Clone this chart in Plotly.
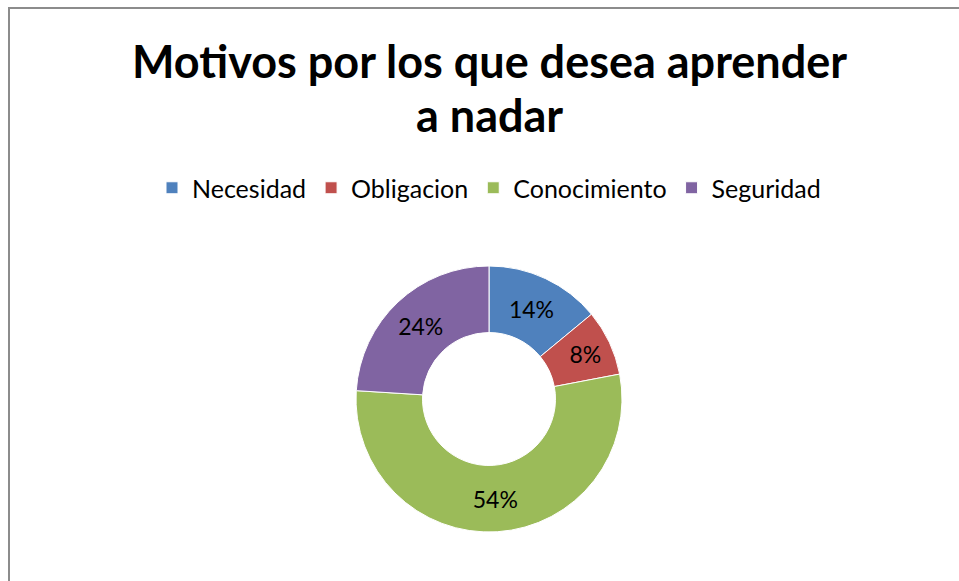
import plotly.graph_objects as go

categories = ["Necesidad", "Obligacion", "Conocimiento", "Seguridad"]
values = [14, 8, 54, 24]
colors = ["#4F81BD", "#C0504D", "#9BBB59", "#8064A2"]
title_lines = ["Motivos por los que desea aprender", "a nadar"]

W, H = 959, 581
cx, cy, r = 489, 399, 133


def px_x(x):
    return x / W


def px_y(y):
    return 1 - y / H


fig = go.Figure(
    go.Pie(
        labels=categories,
        values=values,
        hole=0.5,
        sort=False,
        direction="clockwise",
        rotation=0,
        marker=dict(colors=colors, line=dict(color="white", width=1)),
        texttemplate="%{percent:.0%}",
        textposition="inside",
        insidetextorientation="horizontal",
        textfont=dict(family="Lato", size=23, color="black"),
        domain=dict(x=[px_x(cx - r), px_x(cx + r)], y=[px_y(cy + r), px_y(cy - r)]),
        hoverinfo="label+percent",
    )
)

fig.update_layout(
    width=W,
    height=H,
    margin=dict(l=0, r=0, t=0, b=0),
    paper_bgcolor="white",
    plot_bgcolor="white",
    font=dict(family="Lato", color="black"),
    legend=dict(
        orientation="h",
        x=px_x(489),
        xanchor="center",
        y=px_y(188),
        yanchor="middle",
        font=dict(family="Lato", size=25, color="black"),
        itemwidth=30,
        traceorder="normal",
    ),
    annotations=[
        dict(
            text=f"<b>{line}</b>",
            xref="paper",
            yref="paper",
            x=px_x(489),
            y=px_y(yc),
            xanchor="center",
            yanchor="middle",
            showarrow=False,
            font=dict(family="Lato", size=45, color="black"),
        )
        for line, yc in zip(title_lines, [61, 115])
    ],
    shapes=[
        # chart area border; right and bottom edges fall outside the window
        dict(
            type="rect",
            xref="paper",
            yref="paper",
            x0=px_x(9),
            x1=1.05,
            y0=-0.05,
            y1=px_y(8),
            line=dict(color="#8C8C8C", width=2),
        )
    ],
)

# drop the default page margin so the figure fills the window exactly
fig.write_html(
    "out.html",
    config={"displayModeBar": False},
    post_script="document.body.style.margin='0';document.body.style.overflow='hidden';",
)
